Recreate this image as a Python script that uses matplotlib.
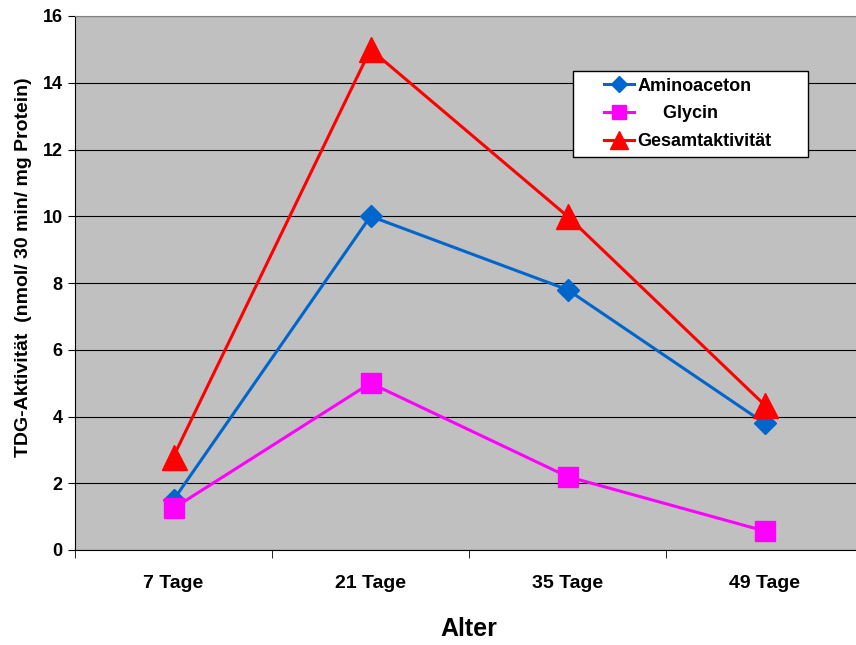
import numpy as np
import matplotlib.pyplot as plt
from matplotlib.patches import Rectangle

plt.rcParams['font.family'] = ['Liberation Sans', 'DejaVu Sans']
plt.rcParams['font.weight'] = 'bold'

categories = ['7 Tage', '21 Tage', '35 Tage', '49 Tage']
aminoaceton = [1.5, 10.0, 7.8, 3.8]
glycin = [1.25, 5.0, 2.2, 0.57]
gesamt = [2.8, 15.0, 10.0, 4.35]

fig = plt.figure(figsize=(8.56, 6.45), dpi=100)
ax = fig.add_axes([75/856, 95/645, 788/856, 534/645])
ax.set_facecolor('#C0C0C0')

x = np.arange(len(categories))
ax.plot(x, aminoaceton, color='#0066CC', lw=2.2, marker='D', ms=11, label='Aminoaceton')
ax.plot(x, glycin, color='#FF00FF', lw=2.2, marker='s', ms=14, label='     Glycin')
ax.plot(x, gesamt, color='#FF0000', lw=2.2, marker='^', ms=18, label='Gesamtaktivität')

ax.set_xlim(-0.5, 3.5)
ax.set_ylim(0, 16)
ax.set_yticks(np.arange(0, 17, 2))
ax.set_xticks(x)
ax.set_xticklabels(categories, fontsize=14, fontweight='bold')
ax.set_xticks(np.arange(-0.5, 4, 1), minor=True)
ax.tick_params(axis='x', which='major', length=0, pad=18)
ax.tick_params(axis='x', which='minor', length=6, direction='out')
ax.tick_params(axis='y', length=5, direction='out', labelsize=13, pad=4)
for lab in ax.get_yticklabels():
    lab.set_fontweight('bold')
ax.grid(axis='y', color='black', lw=0.8)
ax.set_axisbelow(True)

ax.spines['top'].set_color('#808080')
ax.spines['right'].set_visible(False)
ax.spines['left'].set_color('black')
ax.spines['bottom'].set_color('black')

ax.set_xlabel('Alter', fontsize=18, fontweight='bold', labelpad=18)
ax.set_ylabel('TDG-Aktivität  (nmol/ 30 min/ mg Protein)', fontsize=14, fontweight='bold')
ax.yaxis.set_label_coords(-0.054, 0.53)

# legend box (drawn separately so the padding matches)
ax.add_patch(Rectangle((0.632, 0.736), 0.298, 0.161, transform=ax.transAxes,
                       facecolor='white', edgecolor='black', lw=1.0, zorder=5))
leg = ax.legend(loc='center left', bbox_to_anchor=(0.671, 0.8165), fontsize=13,
                frameon=False, handlelength=1.66, handletextpad=0.22, borderpad=0,
                labelspacing=0.6, borderaxespad=0, markerscale=0.7)
leg.set_zorder(6)
for t in leg.get_texts():
    t.set_fontweight('bold')

fig.savefig('out.png', dpi=100)
